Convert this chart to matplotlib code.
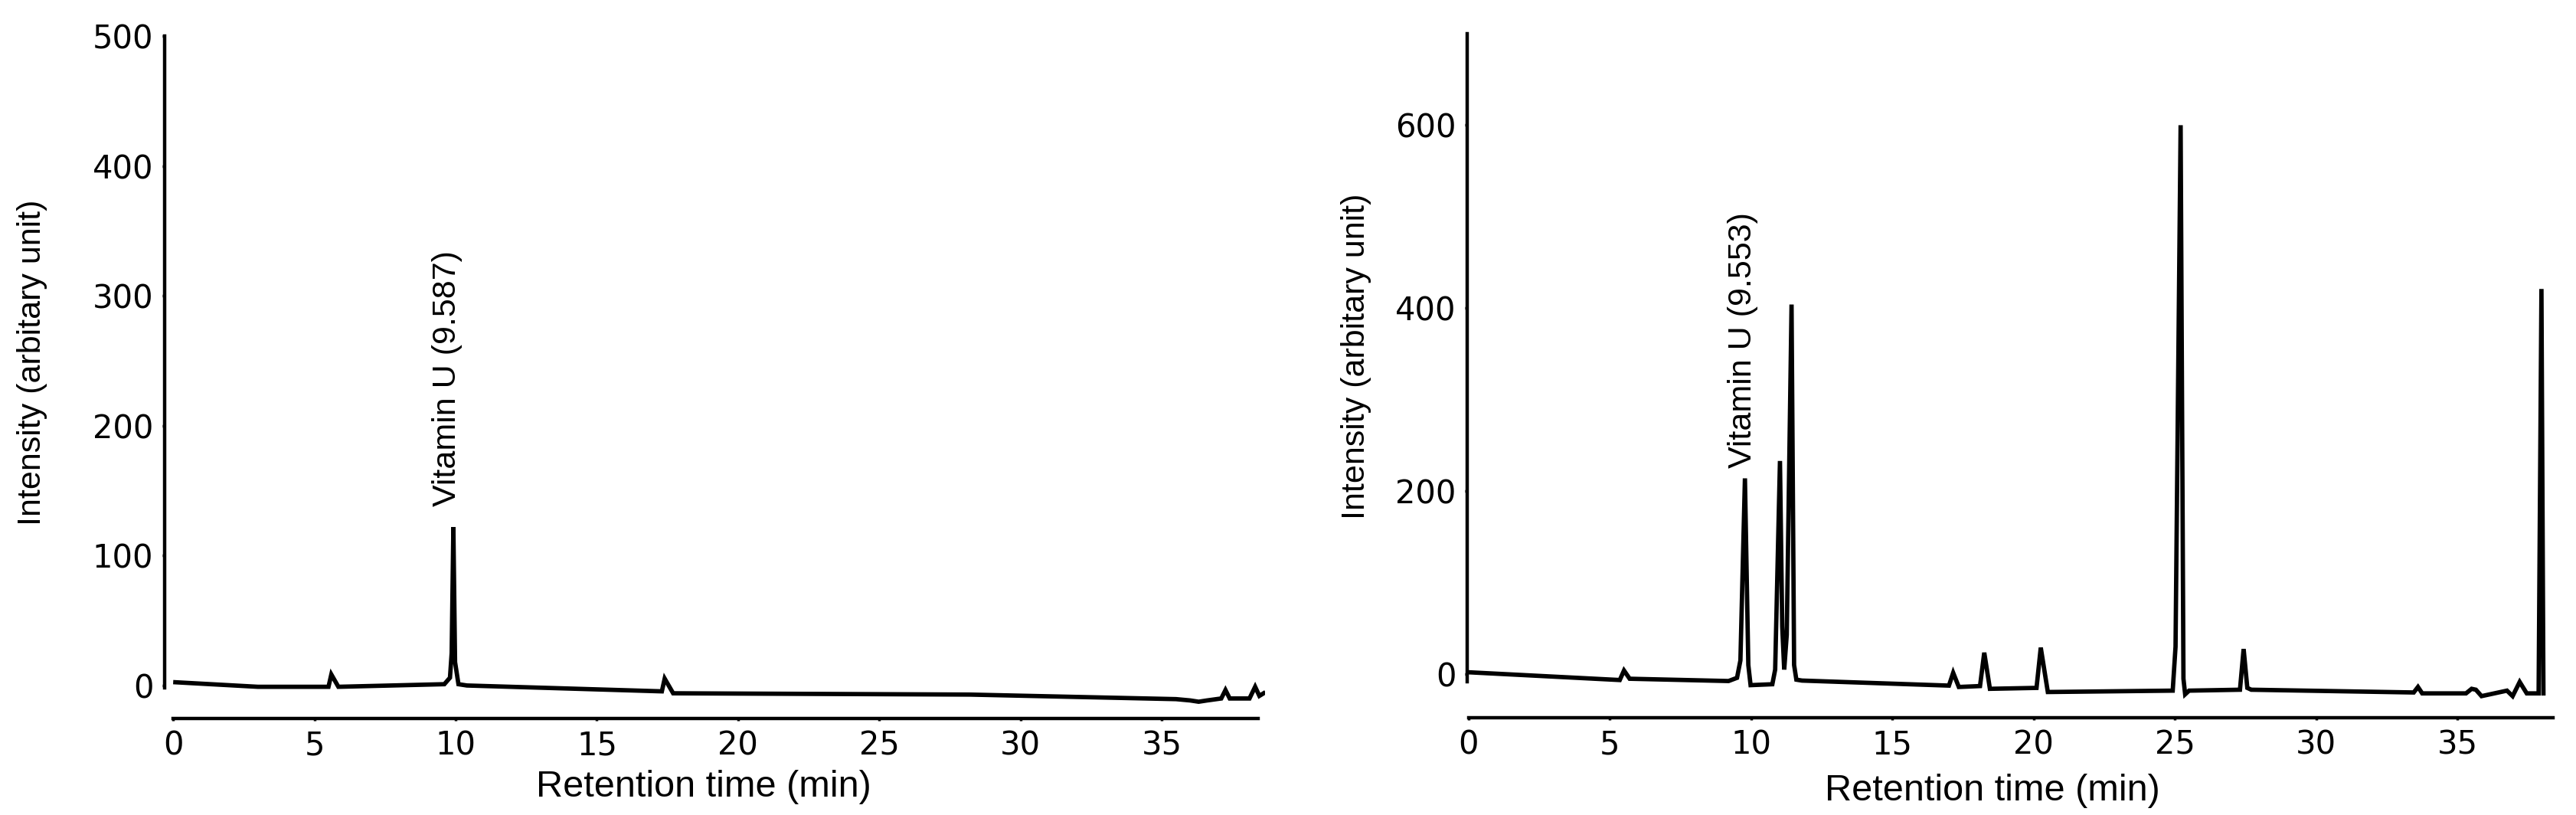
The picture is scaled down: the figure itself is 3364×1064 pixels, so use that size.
import matplotlib
matplotlib.use("Agg")
import matplotlib.pyplot as plt

plt.rcParams.update({
    'font.family': ['Liberation Sans', 'DejaVu Sans'],
})

# chromatogram A: retention time (min), intensity
left_time = [0.08, 3.0, 5.5, 5.6, 5.85, 9.6, 9.8, 9.86, 9.92, 9.98, 10.1, 10.4,
             17.3, 17.4, 17.7, 28.2, 35.5, 36.0, 36.3, 36.6, 37.1, 37.25, 37.4,
             38.1, 38.3, 38.45, 38.6]
left_signal = [2.5, -1, -1, 8.5, -1, 1, 6, 25, 122, 18, 1, 0,
               -4.5, 5.3, -6, -7, -10.5, -11.5, -12.5, -11.5, -10, -3.5, -10,
               -10, -1, -8, -6]

# chromatogram B
right_time = [0.05, 5.35, 5.5, 5.7, 9.2, 9.5, 9.62, 9.78, 9.9, 9.98, 10.75, 10.85,
              11.02, 11.1, 11.17, 11.26, 11.43, 11.52, 11.6, 11.8, 17.0, 17.15,
              17.35, 18.1, 18.25, 18.45, 20.1, 20.25, 20.5, 24.92, 25.02, 25.2,
              25.3, 25.36, 25.5, 27.3, 27.43, 27.56, 27.7, 33.45, 33.6, 33.75,
              35.3, 35.5, 35.65, 35.85, 36.6, 36.75, 36.95, 37.2, 37.45, 37.87,
              37.97, 38.04]
right_signal = [2, -6.4, 4, -5, -7.5, -4, 15, 214, 10, -12, -11, 5,
                233, 52, 5, 43, 404, 10, -6, -7, -12.5, 1.5,
                -14, -13, 23.5, -16, -15, 29, -19.5, -18, 30, 600,
                -5, -22, -18, -17, 27.5, -15, -17, -20, -14, -21,
                -21, -16, -17, -24, -19, -18, -24, -8.5, -21, -21,
                421, -21]

left_label = "Vitamin U (9.587)"
right_label = "Vitamin U (9.553)"
x_ticks = [0, 5, 10, 15, 20, 25, 30, 35]
left_yticks = [0, 100, 200, 300, 400, 500]
right_yticks = [0, 200, 400, 600]

W, H = 3364, 1064
fig = plt.figure(figsize=(W / 100, H / 100), dpi=100)


def px_axes(l, r, t, b):
    return fig.add_axes([l / W, 1 - b / H, (r - l) / W, (b - t) / H])


def style(ax, xlim, ylim, ybounds, xbounds, yticks):
    ax.set_xlim(*xlim)
    ax.set_ylim(*ylim)
    for s in ['top', 'right']:
        ax.spines[s].set_visible(False)
    for s in ['left', 'bottom']:
        ax.spines[s].set_linewidth(3.2)
    ax.spines['left'].set_bounds(*ybounds)
    ax.spines['bottom'].set_bounds(*xbounds)
    ax.set_xticks(x_ticks)
    ax.set_yticks(yticks)
    ax.tick_params(length=2.5, width=2.5, pad=8, labelsize=30)
    for lab in ax.get_xticklabels() + ax.get_yticklabels():
        lab.set_fontfamily('DejaVu Sans')


# left panel
ax1 = px_axes(215, 1652, 47, 938)
ax1.plot(left_time, left_signal, color='black', lw=4.1, solid_joinstyle='miter')
style(ax1, (-0.3, 38.65), (-25.4, 500), (-2, 500), (0, 38.4), left_yticks)
ax1.text(9.7, 138, left_label, rotation=90, ha='center', va='bottom', fontsize=31)
ax1.set_xlabel('Retention time (min)', fontsize=35)
ax1.set_ylabel('Intensity (arbitary unit)', fontsize=31)
ax1.xaxis.label.set_va('center')
ax1.yaxis.label.set_va('center')
ax1.xaxis.set_label_coords(0.49, -0.0999)
ax1.yaxis.set_label_coords(-0.1204, 0.522)

# right panel
ax2 = px_axes(1916, 3334, 44, 937)
ax2.plot(right_time, right_signal, color='black', lw=4.1, solid_joinstyle='miter')
style(ax2, (-0.05, 38.38), (-47.6, 700), (-8, 700), (0, 38.37), right_yticks)
ax2.text(9.71, 225, right_label, rotation=90, ha='center', va='bottom', fontsize=31)
ax2.set_xlabel('Retention time (min)', fontsize=35)
ax2.set_ylabel('Intensity (arbitary unit)', fontsize=31)
ax2.xaxis.label.set_va('center')
ax2.yaxis.label.set_va('center')
ax2.xaxis.set_label_coords(0.4838, -0.1064)
ax2.yaxis.set_label_coords(-0.1023, 0.5286)

fig.savefig('out.png', dpi=100, facecolor='white')
